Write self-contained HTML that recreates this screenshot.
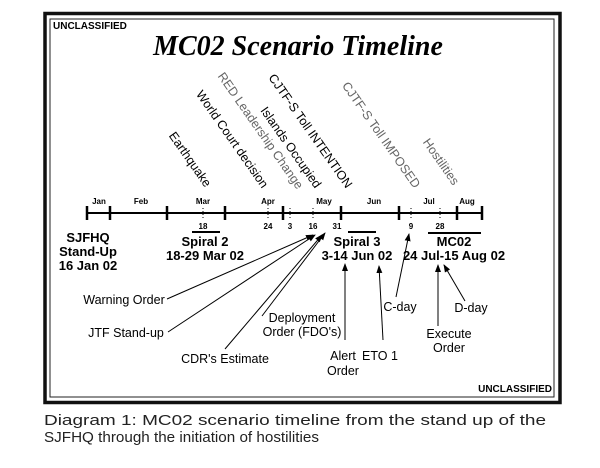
<!DOCTYPE html>
<html><head><style>
body{margin:0;background:#fff;}
svg{display:block;font-family:"Liberation Sans",sans-serif;}
.b{font-weight:bold}
</style></head><body>
<svg width="600" height="468" viewBox="0 0 600 468">
<defs><marker id="a" markerWidth="8" markerHeight="8" refX="7" refY="4" orient="auto" markerUnits="userSpaceOnUse"><path d="M0,1 L8,4 L0,7 z" fill="#000"/></marker></defs>
<rect x="45" y="13.5" width="515" height="389" fill="none" stroke="#111" stroke-width="3.5"/>
<rect x="50" y="19" width="504" height="378" fill="none" stroke="#222" stroke-width="1"/>
<text x="53" y="29" font-size="10" class="b">UNCLASSIFIED</text>
<text x="552" y="392" font-size="10" class="b" text-anchor="end">UNCLASSIFIED</text>
<text x="298" y="55" font-size="28" font-family="Liberation Serif,serif" font-weight="bold" font-style="italic" text-anchor="middle">MC02 Scenario Timeline</text>
<g font-size="12.5">
<text transform="translate(205,188) rotate(55)" text-anchor="end">Earthquake</text>
<text transform="translate(262,189) rotate(55)" text-anchor="end">World Court decision</text>
<text transform="translate(297,190) rotate(55)" text-anchor="end" fill="#666">RED Leadership Change</text>
<text transform="translate(315,189) rotate(55)" text-anchor="end">Islands Occupied</text>
<text transform="translate(346,189) rotate(55)" text-anchor="end">CJTF-S Toll INTENTION</text>
<text transform="translate(414,189) rotate(55)" text-anchor="end" fill="#666">CJTF-S Toll IMPOSED</text>
<text transform="translate(453,186) rotate(55)" text-anchor="end" fill="#666">Hostilities</text>
</g>
<line x1="87" y1="213" x2="482" y2="213" stroke="#000" stroke-width="2"/>
<g stroke="#000" stroke-width="2.5">
<line x1="87" y1="206" x2="87" y2="220"/><line x1="110" y1="206" x2="110" y2="220"/><line x1="167" y1="206" x2="167" y2="220"/><line x1="225" y1="206" x2="225" y2="220"/><line x1="283" y1="206" x2="283" y2="220"/><line x1="341" y1="206" x2="341" y2="220"/><line x1="399" y1="206" x2="399" y2="220"/><line x1="457" y1="206" x2="457" y2="220"/><line x1="482" y1="206" x2="482" y2="220"/>
</g>
<g stroke="#000" stroke-width="1" stroke-dasharray="1,2">
<line x1="203" y1="208" x2="203" y2="218"/><line x1="268" y1="208" x2="268" y2="218"/><line x1="290" y1="208" x2="290" y2="218"/><line x1="313" y1="208" x2="313" y2="218"/><line x1="411" y1="208" x2="411" y2="218"/><line x1="440" y1="208" x2="440" y2="218"/>
</g>
<g font-size="8" text-anchor="middle" class="b">
<text x="99" y="204">Jan</text><text x="141" y="204">Feb</text><text x="203" y="204">Mar</text><text x="268" y="204">Apr</text><text x="324" y="204">May</text><text x="374" y="204">Jun</text><text x="429" y="204">Jul</text><text x="467" y="204">Aug</text>
<text x="203" y="229">18</text><text x="268" y="229">24</text><text x="290" y="229">3</text><text x="313" y="229">16</text><text x="337" y="229">31</text><text x="411" y="229">9</text><text x="440" y="229">28</text>
</g>
<g stroke="#000" stroke-width="2"><line x1="192" y1="232" x2="220" y2="232"/><line x1="348" y1="232" x2="376" y2="232"/><line x1="428" y1="233" x2="481" y2="233"/></g>
<g font-size="13" class="b" text-anchor="middle">
<text x="88" y="242">SJFHQ</text><text x="88" y="256">Stand-Up</text><text x="88" y="270">16 Jan 02</text>
<text x="205" y="246">Spiral 2</text><text x="205" y="260">18-29 Mar 02</text>
<text x="357" y="246">Spiral 3</text><text x="357" y="260">3-14 Jun 02</text>
<text x="454" y="246">MC02</text><text x="454" y="260">24 Jul-15 Aug 02</text>
</g>
<g stroke="#000" stroke-width="1" marker-end="url(#a)">
<line x1="167" y1="299" x2="313" y2="235"/>
<line x1="168" y1="332" x2="315" y2="235"/>
<line x1="225" y1="349" x2="322" y2="235"/>
<line x1="262" y1="316" x2="325" y2="233"/>
<line x1="345" y1="340" x2="345" y2="264"/>
<line x1="383" y1="340" x2="379" y2="266"/>
<line x1="396" y1="297" x2="409" y2="234"/>
<line x1="438" y1="326" x2="438" y2="265"/>
<line x1="465" y1="301" x2="444" y2="265"/>
</g>
<g font-size="12.5" text-anchor="middle">
<text x="124" y="304">Warning Order</text>
<text x="126" y="337">JTF Stand-up</text>
<text x="225" y="363">CDR's Estimate</text>
<text x="302" y="322">Deployment</text><text x="302" y="336">Order (FDO's)</text>
<text x="343" y="360">Alert</text><text x="343" y="375">Order</text>
<text x="380" y="360">ETO 1</text>
<text x="400" y="311">C-day</text>
<text x="449" y="338">Execute</text><text x="449" y="352">Order</text>
<text x="471" y="312">D-day</text>
</g>
<g font-size="15" fill="#222">
<text x="44" y="425" textLength="502" lengthAdjust="spacingAndGlyphs">Diagram 1: MC02 scenario timeline from the stand up of the</text>
<text x="44" y="442" textLength="275" lengthAdjust="spacingAndGlyphs">SJFHQ through the initiation of hostilities</text>
</g>
</svg>
</body></html>
